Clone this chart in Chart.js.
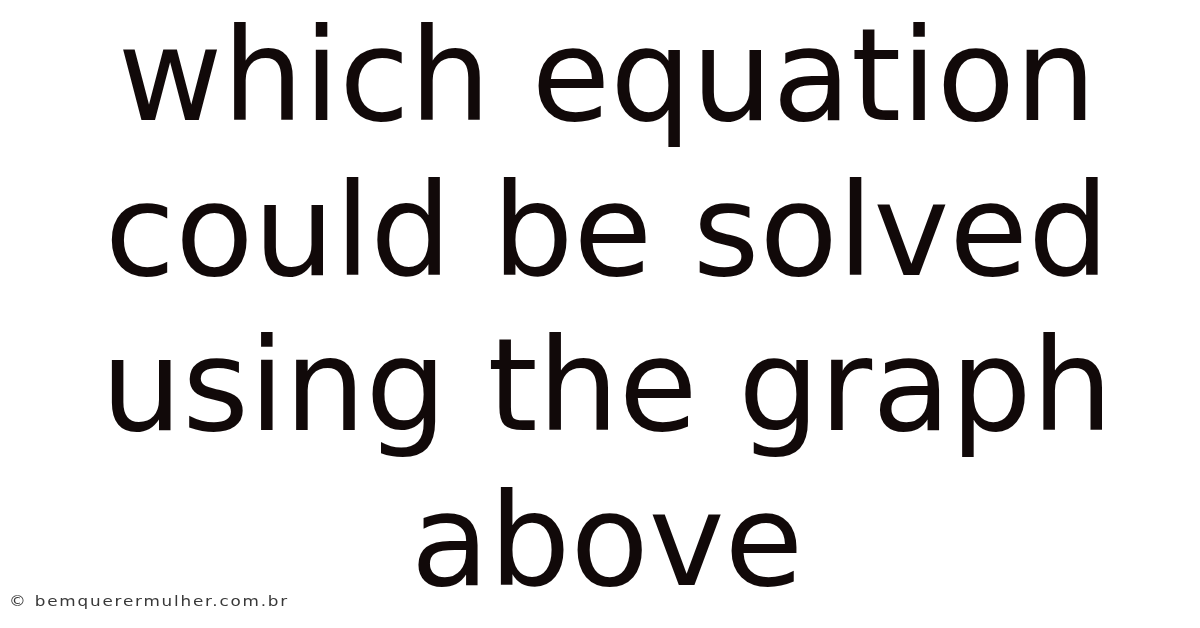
<!DOCTYPE html>
<html>
<head>
<meta charset="utf-8">
<script src="https://cdn.jsdelivr.net/npm/chart.js@4/dist/chart.umd.min.js"></script>
<style>
  html, body { margin: 0; padding: 0; background: #ffffff; }
  #card { display: block; }
</style>
</head>
<body>
<canvas id="card" width="1200" height="628"></canvas>
<script>
// Text content of the card (no plotted series in this picture)
const titleLines = ['which equation', 'could be solved', 'using the graph', 'above'];
const footerText = ['\u00a9 bemquerermulher.com.br'];

// Draws the big centred heading and the small credit line
const cardText = {
    id: 'cardText',
    afterDraw(chart) {
        const ctx = chart.ctx;
        ctx.save();
        ctx.fillStyle = '#110909';
        ctx.font = '128px "DejaVu Sans"';
        ctx.textAlign = 'center';
        ctx.textBaseline = 'alphabetic';
        titleLines.forEach((line, i) => {
            ctx.fillText(line, 607, 120 + i * 155);
        });
        ctx.restore();

        // credit line is a bit stretched in the original
        ctx.save();
        ctx.fillStyle = '#383838';
        ctx.font = '14px "DejaVu Sans"';
        ctx.textAlign = 'left';
        ctx.letterSpacing = '1.5px';
        ctx.translate(9, 606);
        ctx.scale(1.2, 1);
        ctx.fillText(footerText[0], 0, 0);
        ctx.restore();
    }
};

document.addEventListener('DOMContentLoaded', function () {
    const ctx = document.getElementById('card');
    new Chart(ctx, {
        type: 'line',
        data: { labels: [], datasets: [] },
        options: {
            responsive: false,
            animation: false,
            devicePixelRatio: 1,
            plugins: {
                legend: { display: false },
                tooltip: { enabled: false }
            },
            scales: {
                x: { display: false },
                y: { display: false }
            }
        },
        plugins: [cardText]
    });
});
</script>
</body>
</html>
